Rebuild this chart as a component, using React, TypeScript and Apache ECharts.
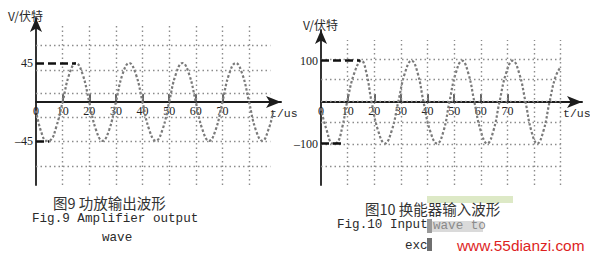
import React, { useEffect, useRef } from "react";
import * as echarts from "echarts";

// Fig.9 — amplifier output (V vs t/us)
const ampLabelTicks = [0, 10, 20, 30, 40, 50, 60, 70];
const ampAxisTicks = [10, 20, 30, 40, 50, 60, 70];
const ampYLabels = [45, -45];
const ampGridX = [10, 20, 30, 40, 50, 60, 70, 80];
const ampGridY = [65, 37, 10, -18, -46, -74];
const ampLevels: [number, number][] = [
  [45, 15],
  [-45, 5],
];
const ampWave: [number, number][] = [
  [0, -10], [2, -35], [4, -45], [5.5, -44], [7.5, -30], [10, 0],
  [12.5, 32], [15, 45], [17.5, 32], [20, 0], [22.5, -32], [25, -45],
  [27.5, -32], [30, 0], [32.5, 32], [35, 45], [37.5, 32], [40, 0],
  [42.5, -32], [45, -45], [47.5, -32], [50, 0], [52.5, 32], [55, 45],
  [57.5, 32], [60, 0], [62.5, -32], [65, -45], [67.5, -32], [70, 0],
  [72.5, 32], [75, 45], [77.5, 32], [80, 0], [82.5, -32], [85, -45],
  [87.5, -30], [89, -12],
];

// Fig.10 — transducer input (V vs t/us)
const xdcLabelTicks = [0, 10, 20, 30, 40, 50, 60, 70];
const xdcAxisTicks = [10, 20, 30, 40, 50, 60, 70];
const xdcYLabels = [100, -100];
const xdcGridX = [10, 20, 30, 40, 50, 60, 70, 80, 90];
const xdcGridY = [104, 55, 3, -49, -101, -154];
const xdcLevels: [number, number][] = [
  [100, 14.7],
  [-100, 7.5],
];
const xdcWave: [number, number][] = [
  [0, -15], [2, -65], [4.5, -100], [6, -98], [8, -60], [9.8, 0],
  [12.5, 70], [15.2, 100], [17, 72], [19, 0], [21.5, -70], [24, -100],
  [26.5, -70], [29, 0], [31.5, 70], [34, 100], [36.3, 70], [38.5, 0],
  [41, -70], [43.6, -100], [46, -70], [48.2, 0], [50.6, 70], [53, 100],
  [55.3, 70], [57.6, 0], [60, -70], [62.4, -100], [64.7, -70], [67, 0],
  [69.5, 70], [72, 100], [74.4, 70], [76.8, 0], [79, -70], [81.2, -100],
  [83.5, -70], [85.8, 0], [88, 60], [90, 85],
];

const INK = "#1c1c1c";
const DOT = "#8c8c8c";
const WAVE = "#7a7a7a";
const SERIF = "'Liberation Serif', 'DejaVu Serif', serif";
const MONO = "'Liberation Mono', 'DejaVu Sans Mono', monospace";
const CJK = "'Noto Sans CJK SC', sans-serif";

// hidden x scale of a plotting grid
function plotX(gridIndex: number, max: number) {
  return { gridIndex, type: "value", min: 0, max, show: false };
}

// visible time axis, drawn along the zero line (bottom edge of its strip grid)
function timeAxis(gridIndex: number, max: number, labels: number[], ticks: number[]) {
  return {
    gridIndex,
    type: "value",
    min: 0,
    max,
    axisLine: {
      onZero: false,
      symbol: ["none", "arrow"],
      symbolSize: [9, 15],
      lineStyle: { color: INK, width: 2 },
    },
    axisTick: {
      show: true,
      inside: true,
      length: 8,
      customValues: ticks,
      lineStyle: { color: "#333", width: 1.5 },
    },
    axisLabel: {
      customValues: labels,
      margin: 3,
      fontFamily: SERIF,
      fontSize: 12,
      color: "#222",
    },
    splitLine: { show: false },
  };
}

function voltAxis(gridIndex: number, min: number, max: number, labels: number[]) {
  return {
    gridIndex,
    type: "value",
    min,
    max,
    axisLine: {
      show: true,
      onZero: false,
      symbol: ["none", "arrow"],
      symbolSize: [9, 14],
      lineStyle: { color: INK, width: 1.8 },
    },
    axisTick: { show: false },
    axisLabel: {
      customValues: labels,
      margin: 3,
      fontFamily: SERIF,
      fontSize: 12,
      color: "#222",
      formatter: (v: number) => (v < 0 ? "–" + -v : String(v)),
    },
    splitLine: { show: false },
  };
}

function hiddenY(gridIndex: number) {
  return { gridIndex, type: "value", min: 0, max: 1, show: false };
}

function gridMarks(
  gx: number[],
  gy: number[],
  xTop: number,
  yBottom: number,
  xRight: number,
  levels: [number, number][]
) {
  const dotted = { color: DOT, width: 1.4, type: [1.5, 3] as number[] };
  const dashed = { color: "#111", width: 2.6, type: [8, 4] as number[] };
  const data: any[] = [];
  gx.forEach((x) =>
    data.push([
      { coord: [x, yBottom], lineStyle: dotted },
      { coord: [x, xTop] },
    ])
  );
  gy.forEach((y) =>
    data.push([
      { coord: [0, y], lineStyle: dotted },
      { coord: [xRight, y] },
    ])
  );
  levels.forEach(([v, t]) =>
    data.push([
      { coord: [0, v], lineStyle: dashed },
      { coord: [t, v] },
    ])
  );
  return {
    silent: true,
    symbol: ["none", "none"],
    label: { show: false },
    emphasis: { disabled: true },
    data,
  };
}

function waveSeries(axisIdx: number, data: [number, number][], marks: any) {
  return {
    type: "line",
    xAxisIndex: axisIdx,
    yAxisIndex: axisIdx,
    data,
    smooth: 0.45,
    symbol: "none",
    showSymbol: false,
    color: WAVE,
    itemStyle: { color: WAVE },
    lineStyle: { color: WAVE, width: 2.2, type: [2.5, 2] },
    markLine: marks,
    z: 3,
  };
}

function txt(x: number, y: number, text: string, font: string, size: number, extra: any = {}) {
  return {
    type: "text",
    x,
    y,
    silent: true,
    style: {
      text,
      fontFamily: font,
      fontSize: size,
      fill: "#2a2a2a",
      textVerticalAlign: "middle",
      ...extra,
    },
  };
}

export default function App() {
  const ref = useRef<HTMLDivElement>(null);

  useEffect(() => {
    if (!ref.current) return;
    const chart = echarts.init(ref.current, undefined, { renderer: "svg" });
    chart.setOption({
      animation: false,
      backgroundColor: "#ffffff",
      color: [WAVE],
      grid: [
        { left: 36, top: 18, width: 245, height: 167 },
        { left: 36, top: 18, width: 245, height: 83.9 },
        { left: 321, top: 30, width: 261, height: 155 },
        { left: 321, top: 30, width: 261, height: 72.1 },
      ],
      xAxis: [
        plotX(0, 92),
        timeAxis(1, 92, ampLabelTicks, ampAxisTicks),
        plotX(2, 98),
        timeAxis(3, 98, xdcLabelTicks, xdcAxisTicks),
      ],
      yAxis: [
        voltAxis(0, -96, 97, ampYLabels),
        hiddenY(1),
        voltAxis(2, -200, 174, xdcYLabels),
        hiddenY(3),
      ],
      series: [
        waveSeries(0, ampWave, gridMarks(ampGridX, ampGridY, 89, -96, 88, ampLevels)),
        waveSeries(2, xdcWave, gridMarks(xdcGridX, xdcGridY, 150, -200, 90, xdcLevels)),
      ],
      graphic: [
        // axis titles
        txt(8, 15, "V/伏特", CJK, 12),
        txt(303, 24, "V/伏特", CJK, 12),
        txt(270, 113, "t/us", MONO, 11.5),
        txt(563, 113, "t/us", MONO, 11.5),
        // caption, left figure
        txt(53, 202, "图9 功放输出波形", CJK, 14.5, { fill: "#333" }),
        txt(32, 219, "Fig.9 Amplifier output", MONO, 12.6),
        txt(102, 238, "wave", MONO, 12.6),
        // caption, right figure
        {
          type: "rect",
          silent: true,
          shape: { x: 427, y: 196, width: 86, height: 7 },
          style: { fill: "#dde9c6" },
        },
        txt(365, 208, "图10 换能器输入波形", CJK, 14.5, { fill: "#333" }),
        {
          type: "rect",
          silent: true,
          shape: { x: 431, y: 221, width: 52, height: 11 },
          style: { fill: "#dadada" },
        },
        {
          type: "rect",
          silent: true,
          shape: { x: 427, y: 219, width: 5, height: 14 },
          style: { fill: "#9a9a9a" },
        },
        txt(337, 225, "Fig.10 Input", MONO, 12.6),
        txt(433, 226, "wave to", MONO, 12.6, { fill: "#8a8a8a" }),
        txt(405, 246, "exc", MONO, 12.6),
        {
          type: "rect",
          silent: true,
          shape: { x: 427, y: 238, width: 5, height: 13 },
          style: { fill: "#6f6f6f" },
        },
        txt(457, 245, "www.55dianzi.com", "'Liberation Sans', Arial, sans-serif", 15.4, {
          fill: "#dd1f1f",
        }),
      ],
    });
    return () => chart.dispose();
  }, []);

  return (
    <div
      ref={ref}
      style={{ position: "fixed", left: 0, top: 0, width: 590, height: 256 }}
    />
  );
}
